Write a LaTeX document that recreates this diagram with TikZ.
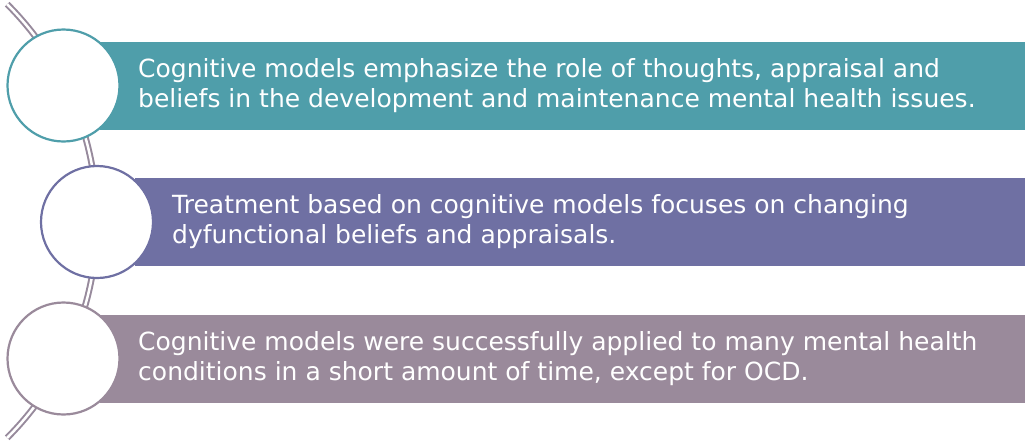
\documentclass[tikz,border=0pt]{standalone}
\usepackage{fontspec}
\setmainfont{DejaVu Sans}
\definecolor{cteal}{HTML}{4F9EAA}
\definecolor{cpurple}{HTML}{6F70A3}
\definecolor{cmauve}{HTML}{9A8A9B}
\definecolor{carc}{HTML}{978A9C}
\tikzset{
  bar/.style={fill=#1, draw=none, minimum height=88pt, anchor=west, inner sep=0pt},
  ring/.style={circle, fill=white, draw=#1, line width=2.2pt, minimum size=112pt, inner sep=0pt},
  txt/.style={anchor=west, align=left, text=white, font=\fontsize{25}{30}\selectfont, inner sep=0pt},
}
\begin{document}
\begin{tikzpicture}[x=1pt,y=-1pt]
\useasboundingbox (0,0) rectangle (1025,440);
% arc behind
\coordinate (arcc) at (-209.6,221);
\draw[carc, line width=2pt, double=white, double distance=2.5pt]
  (arcc) ++(-45:306.6) arc[start angle=-45, end angle=45, radius=306.6];
% bars
\node[bar=cteal, minimum width=925pt] (b1) at (100,86) {};
\node[bar=cpurple, minimum width=890pt] (b2) at (135,222) {};
\node[bar=cmauve, minimum width=925pt] (b3) at (100,359) {};
% circles
\node[ring=cteal] (c1) at (63.5,85.5) {};
\node[ring=cpurple] (c2) at (97,222) {};
\node[ring=cmauve] (c3) at (63.5,358.5) {};
% texts
\node[txt] (t1) at (138,86) {Cognitive models emphasize the role of thoughts, appraisal and\\beliefs in the development and maintenance mental health issues.};
\node[txt] (t2) at (172,222) {Treatment based on cognitive models focuses on changing\\dyfunctional beliefs and appraisals.};
\node[txt] (t3) at (138,359) {Cognitive models were successfully applied to many mental health\\conditions in a short amount of time, except for OCD.};
\end{tikzpicture}
\end{document}
